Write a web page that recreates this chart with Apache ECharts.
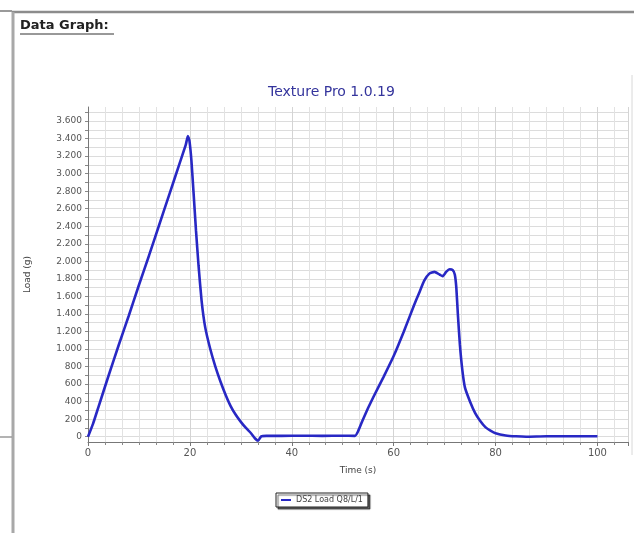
<!DOCTYPE html>
<html>
<head>
<meta charset="utf-8">
<script src="https://cdn.jsdelivr.net/npm/echarts@6/dist/echarts.min.js"></script>
<style>
  html, body { margin: 0; padding: 0; background: #fff; }
  #chart { width: 634px; height: 533px; }
</style>
</head>
<body>
<div id="chart"></div>
<script>
// 时间 (s)
const timeValues = [
  0, 1, 2, 4, 6, 8, 10, 12, 14, 16, 18, 19.2, 19.6,
  19.9, 20.3, 20.7, 21.2, 21.7, 22.3, 23, 24, 25, 26, 27, 28, 29, 30, 31, 32, 32.8, 33.4, 34, 35,
  38, 42, 46, 50, 52.4,
  53, 54, 55, 56, 58, 60, 62, 64, 65, 66, 67, 68, 69, 69.6, 70.3, 71, 71.6, 72, 72.3, 72.6,
  73, 73.5, 74, 75, 76, 77, 78, 79, 80, 82, 84, 86, 90, 95, 100
]
// 载荷 (g)
const loadValues = [
  0, 150, 330, 690, 1040, 1380, 1730, 2070, 2420, 2770, 3120, 3330, 3430,
  3380, 3150, 2800, 2350, 1950, 1550, 1250, 1000, 800, 630, 480, 350, 250, 170, 100, 40, -20, -45, 5, 10,
  10, 12, 10, 12, 10,
  60, 200, 330, 450, 680, 920, 1200, 1500, 1640, 1780, 1860, 1880, 1850, 1830, 1880, 1910, 1900, 1850, 1700, 1400,
  1050, 750, 560, 400, 270, 180, 110, 70, 40, 15, 5, 0, 5, 5, 5
]
const seriesName = 'DS2 Load Q8/L/1'
const yLabelValues = []
for (let v = 0; v <= 3600; v += 200) yLabelValues.push(v)
const yGridValues = []
for (let v = 0; v <= 3700; v += 100) yGridValues.push(v)

const chart = echarts.init(document.getElementById('chart'))

// 千位用点号
const fmt = (v) => String(v).replace(/\B(?=(\d{3})+(?!\d))/g, '.')

const option = {
  backgroundColor: '#fff',
  animation: false,
  title: {
    text: 'Texture Pro 1.0.19',
    left: 263,
    top: 80,
    textStyle: { color: '#34349c', fontSize: 14, fontWeight: 'normal', fontFamily: 'DejaVu Sans' },
  },
  legend: {
    left: 276,
    top: 493,
    padding: [3, 5],
    itemWidth: 10,
    itemHeight: 2,
    itemGap: 4,
    borderColor: '#222',
    borderWidth: 1,
    backgroundColor: '#fff',
    shadowColor: 'rgba(0,0,0,0.6)',
    shadowOffsetX: 2,
    shadowOffsetY: 2,
    shadowBlur: 1,
    textStyle: { fontSize: 8, color: '#444', fontFamily: 'DejaVu Sans' },
    data: [{ name: seriesName, icon: 'rect' }],
  },
  grid: { left: 88, right: 6, top: 107, bottom: 91 },
  xAxis: {
    type: 'value',
    min: 0,
    max: 106,
    interval: 20,
    name: 'Time (s)',
    nameLocation: 'middle',
    nameGap: 24,
    nameTextStyle: { fontSize: 9, color: '#444', fontFamily: 'DejaVu Sans' },
    axisLine: { onZero: false, lineStyle: { color: '#777' } },
    axisTick: { length: 4, lineStyle: { color: '#777' } },
    minorTick: { show: true, splitNumber: 6, length: 3, lineStyle: { color: '#888' } },
    axisLabel: { fontSize: 10, color: '#555', margin: 6, showMaxLabel: false, fontFamily: 'DejaVu Sans' },
    splitLine: { show: true, lineStyle: { color: '#d4d4d4', width: 1 } },
    minorSplitLine: { show: true, lineStyle: { color: '#e2e2e2', width: 1 } },
  },
  yAxis: {
    type: 'value',
    min: -60,
    max: 3760,
    name: 'Load (g)',
    nameLocation: 'middle',
    nameGap: 56,
    nameTextStyle: { fontSize: 9, color: '#444', fontFamily: 'DejaVu Sans' },
    axisLine: { show: true, lineStyle: { color: '#777' } },
    axisTick: { show: true, length: 3, customValues: yGridValues, lineStyle: { color: '#888' } },
    axisLabel: { fontSize: 9, color: '#555', margin: 6, customValues: yLabelValues, formatter: fmt, fontFamily: 'DejaVu Sans' },
    splitLine: { show: true, lineStyle: { color: '#dcdcdc', width: 1 } },
  },
  graphic: [
    // 外框
    { type: 'line', shape: { x1: 12, y1: 12, x2: 634, y2: 12 }, style: { stroke: '#8c8c8c', lineWidth: 2.5 } },
    { type: 'line', shape: { x1: 13, y1: 12, x2: 13, y2: 533 }, style: { stroke: '#a8a8a8', lineWidth: 3 } },
    { type: 'line', shape: { x1: 0, y1: 11, x2: 12, y2: 11 }, style: { stroke: '#9a9a9a', lineWidth: 2 } },
    { type: 'line', shape: { x1: 0, y1: 437, x2: 12, y2: 437 }, style: { stroke: '#9a9a9a', lineWidth: 1.5 } },
    { type: 'line', shape: { x1: 632, y1: 75, x2: 632, y2: 455 }, style: { stroke: '#d8d8d8', lineWidth: 1 } },
    {
      type: 'text', left: 20, top: 19,
      style: { text: 'Data Graph:', fill: '#222', font: 'bold 13px "DejaVu Sans"' },
    },
    { type: 'line', shape: { x1: 20, y1: 34, x2: 114, y2: 34 }, style: { stroke: '#333', lineWidth: 1 } },
  ],
  series: [
    {
      name: seriesName,
      type: 'line',
      data: timeValues.map((t, i) => [t, loadValues[i]]),
      showSymbol: false,
      smooth: 0.15,
      lineStyle: { color: '#2828c4', width: 2.6 },
      itemStyle: { color: '#2828c4' },
    },
  ],
}

chart.setOption(option)
</script>
</body>
</html>
